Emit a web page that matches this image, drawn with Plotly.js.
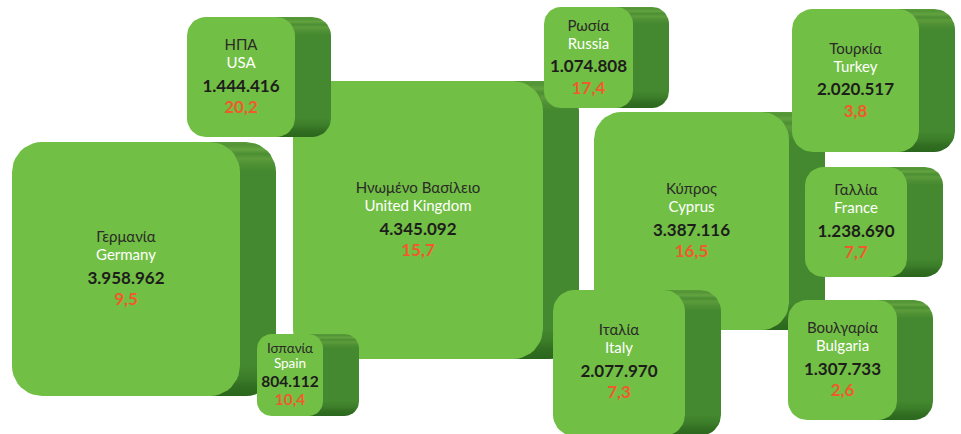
<!DOCTYPE html>
<html><head><meta charset="utf-8">
<script src="https://cdn.plot.ly/plotly-3.0.1.min.js"></script>
<style>html,body{margin:0;padding:0;background:#fff}#chart{width:961px;height:434px}</style>
</head><body><div id="chart"></div>
<script>
// ---- data ----
const countriesEn = ['Germany','United Kingdom','Cyprus','USA','Spain','Russia','Italy','Turkey','France','Bulgaria'];
const countriesGr = ['Γερμανία','Ηνωμένο Βασίλειο','Κύπρος','ΗΠΑ','Ισπανία','Ρωσία','Ιταλία','Τουρκία','Γαλλία','Βουλγαρία'];
const arrivals = [3958962, 4345092, 3387116, 1444416, 804112, 1074808, 2077970, 2020517, 1238690, 1307733];
const shares = [9.5, 15.7, 16.5, 20.2, 10.4, 17.4, 7.3, 3.8, 7.7, 2.6];

// ---- layout (pixel boxes: left, top, right, bottom), drawn in this order ----
const boxLeft   = [12, 293, 594, 187, 257, 544, 553, 792, 805, 788];
const boxTop    = [142, 81, 112, 17, 334, 7, 290, 9, 167, 300];
const boxRight  = [240, 543, 789, 295, 323, 633, 685, 919, 907, 897];
const boxBottom = [396, 359, 330, 137, 416, 108, 436, 152, 277, 420];
const depth = 36;
const W = 961, H = 434;

const FRONT = '#71bf44';
function fmtInt(v){ return String(v).replace(/\B(?=(\d{3})+(?!\d))/g,'.'); }
function fmtDec(v){ return v.toFixed(1).replace('.',','); }

function rrect(x0,y0,x1,y1,r){
  const xs=[], ys=[], n=10;
  const corners=[[x1-r,y0+r,-Math.PI/2,0],[x1-r,y1-r,0,Math.PI/2],[x0+r,y1-r,Math.PI/2,Math.PI],[x0+r,y0+r,Math.PI,1.5*Math.PI]];
  corners.forEach(c=>{
    for(let i=0;i<=n;i++){
      const a=c[2]+(c[3]-c[2])*i/n;
      xs.push(c[0]+r*Math.cos(a)); ys.push(H-(c[1]+r*Math.sin(a)));
    }
  });
  xs.push(xs[0]); ys.push(ys[0]);
  return {x:xs,y:ys};
}

const traces=[];
const tx=[], yGr=[], yEn=[], yNum=[], yPct=[], nameSz=[], numSz=[];
for(let i=0;i<countriesEn.length;i++){
  const l=boxLeft[i], t=boxTop[i], r=boxRight[i], b=boxBottom[i];
  const w=r-l, h=b-t;
  const rad=Math.min(30, 8+0.1*Math.min(w,h));
  const f=Math.min(0.45, rad/h);
  // extrusion
  const back=rrect(l+depth,t,r+depth,b,rad);
  traces.push({type:'scatter',mode:'lines',x:back.x,y:back.y,fill:'toself',
    line:{width:0,color:'rgba(0,0,0,0)'},hoverinfo:'skip',
    fillgradient:{type:'vertical',colorscale:[
      [0,'#2a661c'],[f*0.35,'#336f22'],[f*0.6,'#3b7d29'],[f,'#44882f'],
      [1-f,'#44882f'],[1-f*0.75,'#4e9034'],[1-f*0.55,'#5d9c3b'],[1-f*0.4,'#4b8e33'],
      [1-f*0.25,'#63a23f'],[1-f*0.1,'#529536'],[1,'#5a9a3a']]}});
  // front
  const fr=rrect(l,t,r,b,rad);
  traces.push({type:'scatter',mode:'lines',x:fr.x,y:fr.y,fill:'toself',fillcolor:FRONT,
    line:{width:0,color:FRONT},hoverinfo:'skip'});
  const cx=(l+r)/2, cy=(t+Math.min(b,H))/2;
  const small = h<100;
  const s=small?17:20.5;
  nameSz.push(small?13.5:15); numSz.push(small?15.5:17);
  tx.push(cx);
  yGr.push(H-(cy-1.5*s)); yEn.push(H-(cy-0.6*s)); yNum.push(H-(cy+0.5*s)); yPct.push(H-(cy+1.55*s));
}
const FONT='Lato, "Noto Sans", sans-serif';
traces.push({type:'scatter',mode:'text',x:tx,y:yGr,text:countriesGr,textfont:{family:FONT,size:nameSz,color:'#2b2a29'},hoverinfo:'skip'});
traces.push({type:'scatter',mode:'text',x:tx,y:yEn,text:countriesEn,textfont:{family:FONT,size:nameSz,color:'#ffffff'},hoverinfo:'skip'});
traces.push({type:'scatter',mode:'text',x:tx,y:yNum,text:arrivals.map(fmtInt),textfont:{family:FONT,size:numSz,color:'#1d1d1b',weight:'bold'},hoverinfo:'skip'});
traces.push({type:'scatter',mode:'text',x:tx,y:yPct,text:shares.map(fmtDec),textfont:{family:FONT,size:numSz,color:'#f15a2b',weight:'bold'},hoverinfo:'skip'});

const layout={width:W,height:H,margin:{l:0,r:0,t:0,b:0},showlegend:false,
  paper_bgcolor:'#ffffff',plot_bgcolor:'#ffffff',
  xaxis:{range:[0,W],visible:false,fixedrange:true},
  yaxis:{range:[0,H],visible:false,fixedrange:true}};
Plotly.newPlot('chart',traces,layout,{staticPlot:true,displayModeBar:false});
</script></body></html>
